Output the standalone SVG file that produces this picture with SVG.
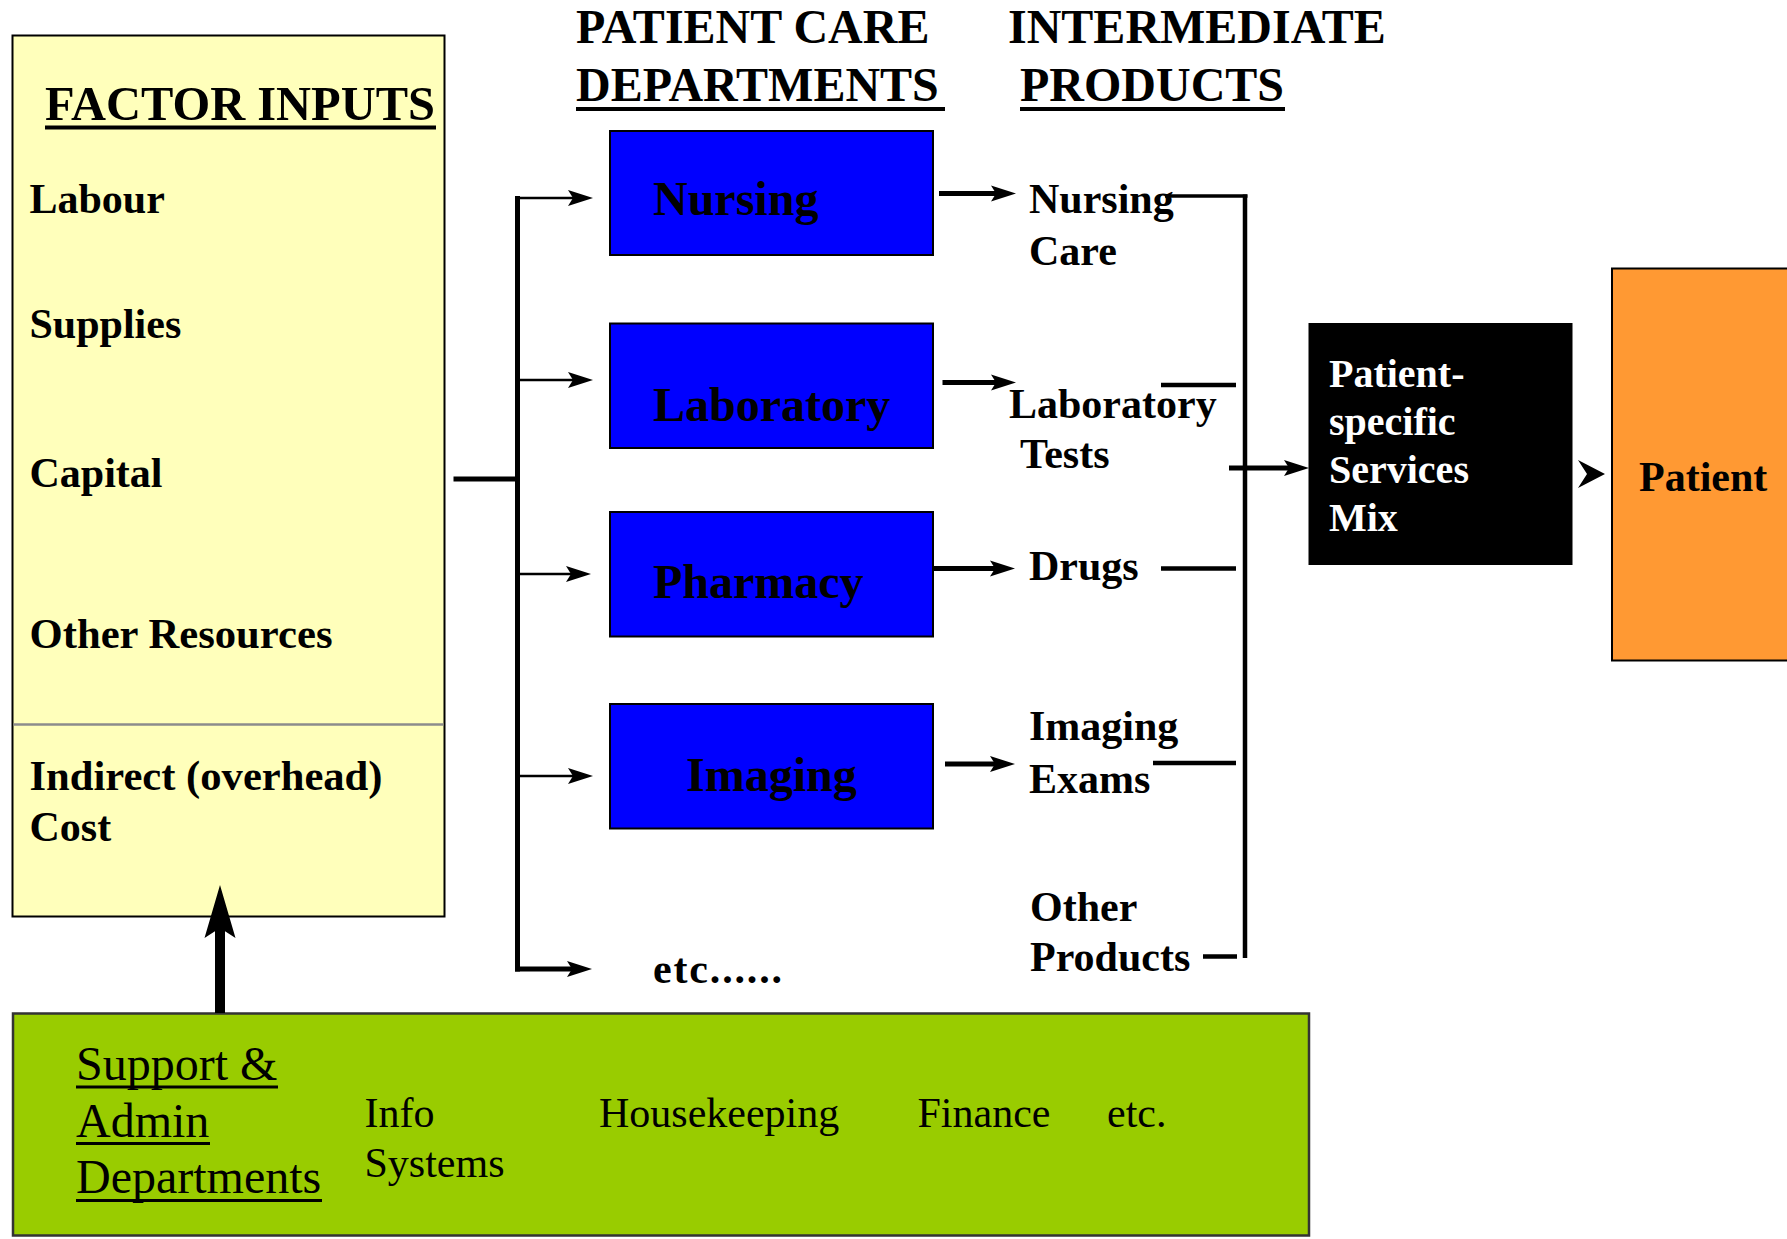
<svg xmlns="http://www.w3.org/2000/svg" width="1787" height="1239" viewBox="0 0 1787 1239">
  <style>
    text { font-family: "Liberation Serif", "Times New Roman", serif; fill: #000; }
    .h { font-size: 48px; font-weight: bold; }
    .item { font-size: 42px; font-weight: bold; }
    .dept { font-size: 48px; font-weight: bold; }
    .reg { font-size: 42px; }
    .reg48 { font-size: 48px; }
    .white { fill: #fff; font-size: 40px; font-weight: bold; }
    .ul { stroke: #000; stroke-width: 4; }
    .dbox { fill: #0000FF; stroke: #000; stroke-width: 2; }
    .thin { stroke: #000; stroke-width: 2.5; fill: none; }
    .thick { stroke: #000; stroke-width: 5; fill: none; }
  </style>
  <defs>
    <!-- barbed arrowhead; line ends 18px before the tip -->
    <marker id="barb" markerUnits="userSpaceOnUse" viewBox="-26 -10 46 20" markerWidth="46" markerHeight="20" refX="0" refY="0" orient="auto" overflow="visible">
      <path d="M18,0 L-7,-8 L-2,0 L-7,8 Z" fill="#000"/>
    </marker>
  </defs>

  <rect width="1787" height="1239" fill="#fff"/>

  <!-- Column headings -->
  <g id="headings">
    <text class="h" x="576" y="43">PATIENT CARE</text>
    <text class="h" x="576" y="101">DEPARTMENTS</text>
    <line class="ul" x1="576" y1="109" x2="945" y2="109"/>
    <text class="h" x="1008" y="43">INTERMEDIATE</text>
    <text class="h" x="1020" y="101">PRODUCTS</text>
    <line class="ul" x1="1020" y1="109" x2="1285" y2="109"/>
  </g>

  <!-- Factor inputs -->
  <g id="factor-inputs">
    <rect x="12.5" y="35.5" width="432" height="881" fill="#FFFFBB" stroke="#000" stroke-width="2"/>
    <line x1="13.5" y1="724.5" x2="443.5" y2="724.5" stroke="#8C8C8C" stroke-width="2.5"/>
    <text class="h" x="45" y="120" textLength="390" lengthAdjust="spacingAndGlyphs">FACTOR INPUTS</text>
    <line class="ul" x1="45" y1="127.5" x2="436" y2="127.5"/>
    <text class="item" x="29.5" y="213">Labour</text>
    <text class="item" x="29.5" y="338">Supplies</text>
    <text class="item" x="29.5" y="487">Capital</text>
    <text class="item" x="29.5" y="648" textLength="303" lengthAdjust="spacingAndGlyphs">Other Resources</text>
    <text class="item" x="29.5" y="790" textLength="353" lengthAdjust="spacingAndGlyphs">Indirect (overhead)</text>
    <text class="item" x="29.5" y="841">Cost</text>
  </g>

  <!-- Patient care departments -->
  <g id="nursing">
    <rect class="dbox" x="610" y="131" width="323" height="124"/>
    <text class="dept" x="653" y="215">Nursing</text>
  </g>
  <g id="laboratory">
    <rect class="dbox" x="610" y="323.5" width="323" height="124.5"/>
    <text class="dept" x="653" y="421">Laboratory</text>
  </g>
  <g id="pharmacy">
    <rect class="dbox" x="610" y="512" width="323" height="124.5"/>
    <text class="dept" x="653" y="598">Pharmacy</text>
  </g>
  <g id="imaging">
    <rect class="dbox" x="610" y="704" width="323" height="124.5"/>
    <text class="dept" x="686" y="791">Imaging</text>
  </g>
  <g id="etc-dept">
    <text class="item" x="653" y="983" textLength="129" lengthAdjust="spacing">etc......</text>
  </g>

  <!-- Intermediate products -->
  <g id="nursing-care">
    <text class="item" x="1029" y="213">Nursing</text>
    <text class="item" x="1029" y="265">Care</text>
  </g>
  <g id="laboratory-tests">
    <text class="item" x="1009" y="418">Laboratory</text>
    <text class="item" x="1020" y="468">Tests</text>
  </g>
  <g id="drugs">
    <text class="item" x="1029" y="580">Drugs</text>
  </g>
  <g id="imaging-exams">
    <text class="item" x="1029" y="740">Imaging</text>
    <text class="item" x="1029" y="793">Exams</text>
  </g>
  <g id="other-products">
    <text class="item" x="1030" y="921">Other</text>
    <text class="item" x="1030" y="971">Products</text>
  </g>

  <!-- Services mix -->
  <g id="services-mix">
    <rect x="1308.5" y="323" width="264" height="242" fill="#000"/>
    <text class="white" x="1329" y="387">Patient-</text>
    <text class="white" x="1329" y="435">specific</text>
    <text class="white" x="1329" y="483">Services</text>
    <text class="white" x="1329" y="531">Mix</text>
  </g>

  <!-- Patient -->
  <g id="patient">
    <rect x="1612" y="268.5" width="190" height="392" fill="#FF9933" stroke="#000" stroke-width="2"/>
    <text class="item" x="1639" y="491">Patient</text>
  </g>

  <!-- Support and admin departments -->
  <g id="support-admin">
    <rect x="13" y="1013.5" width="1296" height="222" fill="#99CC00" stroke="#333" stroke-width="2.5"/>
    <text class="reg48" x="76" y="1080">Support &amp;</text>
    <line x1="76" y1="1087" x2="278" y2="1087" stroke="#000" stroke-width="3"/>
    <text class="reg48" x="76" y="1137">Admin</text>
    <line x1="76" y1="1143.5" x2="210" y2="1143.5" stroke="#000" stroke-width="3"/>
    <text class="reg48" x="76" y="1193">Departments</text>
    <line x1="76" y1="1200.5" x2="322" y2="1200.5" stroke="#000" stroke-width="3"/>
    <text class="reg" x="364.5" y="1127">Info</text>
    <text class="reg" x="364.5" y="1177">Systems</text>
    <text class="reg" x="599" y="1127">Housekeeping</text>
    <text class="reg" x="917.5" y="1127">Finance</text>
    <text class="reg" x="1107" y="1127">etc.</text>
  </g>

  <!-- Connectors -->
  <g id="connectors">
    <!-- factor inputs into the department trunk -->
    <line class="thick" x1="453.5" y1="479" x2="515" y2="479"/>
    <line class="thick" x1="517.5" y1="196" x2="517.5" y2="971.5"/>
    <line class="thin" x1="515" y1="198" x2="575" y2="198" marker-end="url(#barb)"/>
    <line class="thin" x1="517.5" y1="380" x2="575" y2="380" marker-end="url(#barb)"/>
    <line class="thin" x1="517.5" y1="574" x2="573" y2="574" marker-end="url(#barb)"/>
    <line class="thin" x1="517.5" y1="776" x2="575" y2="776" marker-end="url(#barb)"/>
    <line class="thick" x1="515" y1="969" x2="574" y2="969" marker-end="url(#barb)"/>

    <!-- departments to products -->
    <line class="thick" x1="939" y1="193.5" x2="998" y2="193.5" marker-end="url(#barb)"/>
    <line class="thick" x1="942.5" y1="382.5" x2="998" y2="382.5" marker-end="url(#barb)"/>
    <line class="thick" x1="933" y1="568.5" x2="997" y2="568.5" marker-end="url(#barb)"/>
    <line class="thick" x1="945" y1="764" x2="997" y2="764" marker-end="url(#barb)"/>

    <!-- products collected into the services mix -->
    <line x1="1165" y1="196" x2="1247.5" y2="196" stroke="#000" stroke-width="3.5"/>
    <line x1="1245" y1="194.5" x2="1245" y2="958" stroke="#000" stroke-width="4.5"/>
    <line x1="1161" y1="385" x2="1236" y2="385" stroke="#000" stroke-width="4.5"/>
    <line x1="1161" y1="568.5" x2="1236" y2="568.5" stroke="#000" stroke-width="4.5"/>
    <line x1="1153" y1="763" x2="1236" y2="763" stroke="#000" stroke-width="4.5"/>
    <line x1="1203" y1="956.5" x2="1237" y2="956.5" stroke="#000" stroke-width="4.5"/>
    <line class="thick" x1="1229" y1="468" x2="1291" y2="468" marker-end="url(#barb)"/>

    <!-- services mix to patient -->
    <path d="M1578,460 L1605,474 L1578,488 L1587,474 Z" fill="#000"/>

    <!-- support departments feed indirect cost -->
    <line x1="220" y1="1013" x2="220" y2="925" stroke="#000" stroke-width="10"/>
    <path d="M220,885 L235.5,938 L220,928 L204.5,938 Z" fill="#000"/>
  </g>
</svg>
